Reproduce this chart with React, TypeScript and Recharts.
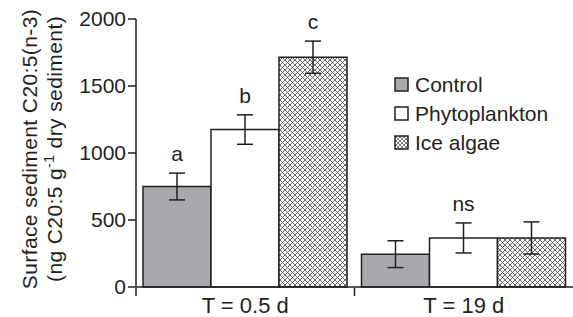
import React from 'react';
import { BarChart, Bar, XAxis, YAxis, ErrorBar, LabelList, Label } from 'recharts';

const groups = ['T = 0.5 d', 'T = 19 d'];
const control = [750, 245];
const controlErr = [100, 100];
const phyto = [1175, 366];
const phytoErr = [110, 112];
const ice = [1715, 366];
const iceErr = [120, 120];
const controlLetters = ['a', ''];
const phytoLetters = ['b', 'ns'];
const iceLetters = ['c', ''];
const yTicks = [0, 500, 1000, 1500, 2000];

const data = groups.map((g, i) => ({
    name: g,
    control: control[i],
    controlErr: controlErr[i],
    phyto: phyto[i],
    phytoErr: phytoErr[i],
    ice: ice[i],
    iceErr: iceErr[i],
    controlLetter: controlLetters[i],
    phytoLetter: phytoLetters[i],
    iceLetter: iceLetters[i],
}));

const INK = '#231f20';
const FONT = '"Liberation Sans", Arial, sans-serif';
const PLOT_LEFT = 136;
const BAND = (573 - PLOT_LEFT) / groups.length;

// letter above the error bar cap
const makeLetter = (errs: number[]) => (props: any) => {
    const { x, y, width, value, index } = props;
    if (!value) return null;
    const errPx = errs[index] * 0.134;
    return (
        <text x={x + width / 2} y={y - errPx - 12} textAnchor="middle" fontSize={21} fontFamily={FONT} fill={INK}>
            {value}
        </text>
    );
};

// category label plus a short tick at the left edge of each group
const XTick = (props: any) => {
    const { x, y, payload } = props;
    const edge = x - BAND / 2;
    return (
        <g>
            <line x1={edge} x2={edge} y1={y - 1} y2={y + 7} stroke={INK} strokeWidth={1.5} />
            <text x={x} y={y + 24} textAnchor="middle" fontSize={22} fontFamily={FONT} fill={INK}>
                {payload.value}
            </text>
        </g>
    );
};

const legendItems = [
    { key: 'control', label: 'Control', fill: '#a7a9ac' },
    { key: 'phyto', label: 'Phytoplankton', fill: '#ffffff' },
    { key: 'ice', label: 'Ice algae', fill: 'url(#lgHatch)' },
];

const YLabel = () => {
    const cy = 149;
    const style = { fontFamily: FONT, fontSize: 21, fill: INK, letterSpacing: 0.4 };
    return (
        <g>
            <text style={style} transform={`translate(37, ${cy}) rotate(-90)`} textAnchor="middle">
                Surface sediment C20:5(n-3)
            </text>
            <text style={style} transform={`translate(62, ${cy}) rotate(-90)`} textAnchor="middle">
                (ng C20:5 g<tspan dy={-8} style={{ fontSize: 14 }}>-1</tspan><tspan dy={8}> dry sediment)</tspan>
            </text>
        </g>
    );
};

const App: React.FC = () => {
    return (
        <div style={{ position: 'absolute', left: 0, top: 0, width: 573, height: 317, background: '#fff' }}>
            <BarChart
                width={573}
                height={317}
                data={data}
                margin={{ top: 19, right: 0, bottom: 0, left: 0 }}
                barCategoryGap={7}
                barGap={0}
            >
                <defs>
                    <pattern id="hatch" width={5} height={5} patternUnits="userSpaceOnUse">
                        <rect width={5} height={5} fill="#fff" />
                        <path d="M0,0 L5,5 M5,0 L0,5" stroke="#444" strokeWidth={0.8} />
                    </pattern>
                </defs>
                <XAxis
                    dataKey="name"
                    height={30}
                    axisLine={{ stroke: INK, strokeWidth: 1.5 }}
                    tickLine={false}
                    tickSize={0}
                    tick={<XTick />}
                />
                <YAxis
                    domain={[0, 2000]}
                    ticks={yTicks}
                    width={PLOT_LEFT}
                    axisLine={{ stroke: INK, strokeWidth: 1.5 }}
                    tickLine={{ stroke: INK, strokeWidth: 1.5 }}
                    tickSize={8}
                    tick={{ fill: INK, fontSize: 21, fontFamily: FONT }}
                >
                    <Label content={<YLabel />} />
                </YAxis>
                <Bar dataKey="control" fill="#a7a9ac" stroke={INK} strokeWidth={1.5} isAnimationActive={false}>
                    <ErrorBar dataKey="controlErr" width={8} stroke={INK} strokeWidth={1.5} />
                    <LabelList dataKey="controlLetter" content={makeLetter(controlErr)} />
                </Bar>
                <Bar dataKey="phyto" fill="#ffffff" stroke={INK} strokeWidth={1.5} isAnimationActive={false}>
                    <ErrorBar dataKey="phytoErr" width={8} stroke={INK} strokeWidth={1.5} />
                    <LabelList dataKey="phytoLetter" content={makeLetter(phytoErr)} />
                </Bar>
                <Bar dataKey="ice" fill="url(#hatch)" stroke={INK} strokeWidth={1.5} isAnimationActive={false}>
                    <ErrorBar dataKey="iceErr" width={8} stroke={INK} strokeWidth={1.5} />
                    <LabelList dataKey="iceLetter" content={makeLetter(iceErr)} />
                </Bar>
            </BarChart>
            {/* legend drawn over the plot, Recharts would reserve space for it */}
            <div style={{ position: 'absolute', left: 394, top: 70, fontFamily: FONT, fontSize: 21, color: INK }}>
                {legendItems.map(item => (
                    <div key={item.key} style={{ display: 'flex', alignItems: 'center', height: 29 }}>
                        <svg width={16} height={16} style={{ marginRight: 5 }}>
                            <defs>
                                <pattern id="lgHatch" width={4} height={4} patternUnits="userSpaceOnUse">
                                    <rect width={4} height={4} fill="#fff" />
                                    <path d="M0,0 L4,4 M4,0 L0,4" stroke="#444" strokeWidth={0.7} />
                                </pattern>
                            </defs>
                            <rect x={1} y={1} width={13} height={13} fill={item.fill} stroke={INK} strokeWidth={1.5} />
                        </svg>
                        <span>{item.label}</span>
                    </div>
                ))}
            </div>
        </div>
    );
};

export default App;
